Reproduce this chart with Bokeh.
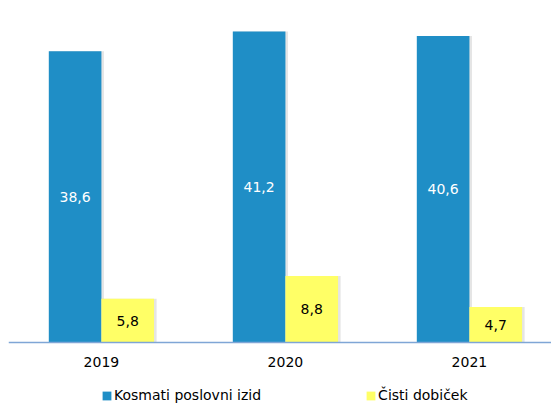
from bokeh.plotting import figure
from bokeh.models import ColumnDataSource, Legend, LegendItem, Range1d, LabelSet, Span
from bokeh.core.properties import value
from bokeh.transform import dodge
from bokeh.embed import file_html
from bokeh.resources import INLINE

years = ["2019", "2020", "2021"]
kosmati = [38.6, 41.2, 40.6]
cisti = [5.8, 8.8, 4.7]

xs = list(range(len(years)))
src = ColumnDataSource(dict(
    x=xs,
    yr=years,
    k=kosmati,
    c=cisti,
    kh=[v / 2 for v in kosmati],
    ch=[v / 2 for v in cisti],
    kl=[f"{v:.1f}".replace(".", ",") for v in kosmati],
    cl=[f"{v:.1f}".replace(".", ",") for v in cisti],
))

FONT = "DejaVu Sans"
FS = "14px"
BLUE = "#1F8EC6"
YELLOW = "#FFFF66"

p = figure(width=551, height=403, output_backend="svg", toolbar_location=None,
           x_range=Range1d(-0.505, 2.446), y_range=Range1d(-8.083, 45.32),
           min_border_left=8, min_border_right=0, min_border_top=0, min_border_bottom=0)
p.outline_line_color = None
p.xgrid.visible = False
p.ygrid.visible = False
p.xaxis.visible = False
p.yaxis.visible = False

bw = 0.286
# soft shadows
p.vbar(x=dodge("x", -bw / 2 + 0.008, range=p.x_range), top="k", width=bw + 0.012, source=src,
       fill_color="#000000", fill_alpha=0.10, line_color=None)
p.vbar(x=dodge("x", bw / 2 + 0.008, range=p.x_range), top="c", width=bw + 0.012, source=src,
       fill_color="#000000", fill_alpha=0.10, line_color=None)

r1 = p.vbar(x=dodge("x", -bw / 2, range=p.x_range), top="k", width=bw, source=src,
            fill_color=BLUE, line_color=None)
r2 = p.vbar(x=dodge("x", bw / 2, range=p.x_range), top="c", width=bw, source=src,
            fill_color=YELLOW, line_color=None)

# baseline (category axis line)
p.add_layout(Span(location=0, dimension="width", line_color="#7FA6D6", line_width=1.5))

p.add_layout(LabelSet(x=dodge("x", -bw / 2, range=p.x_range), y="kh", text="kl", source=src,
                      text_align="center", text_baseline="middle", text_color="white",
                      text_font=value(FONT), text_font_size=value(FS)))
p.add_layout(LabelSet(x=dodge("x", bw / 2, range=p.x_range), y="ch", text="cl", source=src,
                      text_align="center", text_baseline="middle", text_color="black",
                      text_font=value(FONT), text_font_size=value(FS)))

# category labels
p.add_layout(LabelSet(x="x", y=41.5, y_units="screen", text="yr", source=src,
                      text_align="center", text_baseline="middle", text_color="black",
                      text_font=value(FONT), text_font_size=value(FS)))

legend = Legend(items=[LegendItem(label="Kosmati poslovni izid", renderers=[r1]),
                       LegendItem(label="Čisti dobiček", renderers=[r2])],
                orientation="horizontal", location=(93, 0))
legend.border_line_color = None
legend.background_fill_alpha = 0
legend.label_text_font = FONT
legend.label_text_font_size = FS
legend.label_text_color = "#000000"
legend.glyph_width = 11
legend.glyph_height = 11
legend.label_standoff = 2
legend.spacing = 104
legend.padding = 0
legend.margin = 0
p.add_layout(legend)

open("out.html", "w").write(file_html(p, INLINE))
